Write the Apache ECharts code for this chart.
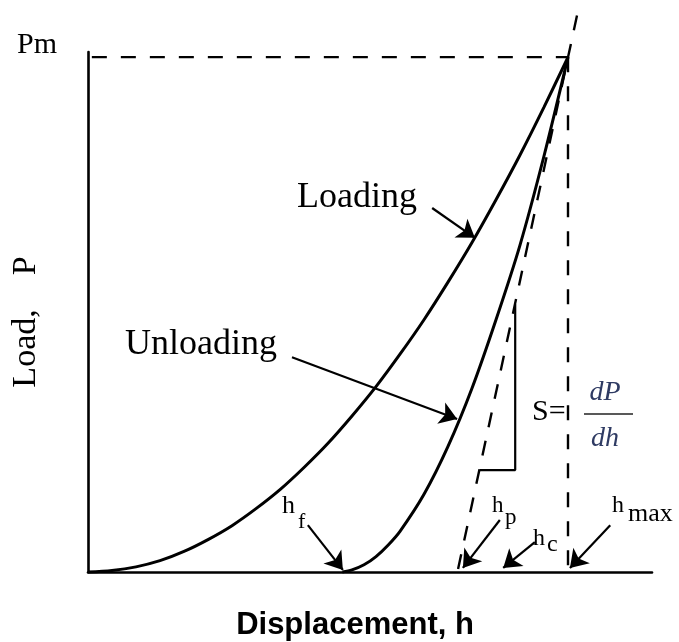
<!DOCTYPE html>
<html>
<head>
<meta charset="utf-8">
<script src="https://cdn.jsdelivr.net/npm/echarts@6/dist/echarts.min.js"></script>
<style>
  html, body { margin: 0; padding: 0; background: #fff; }
  #chart { width: 679px; height: 642px; }
</style>
</head>
<body>
<div id="chart"></div>
<script>
// displacement h (hmax = 100) and load P (Pm = 100)
const loadingH = [0, 5, 10, 15, 20, 25, 30, 35, 40, 45, 50, 55, 60, 65, 70, 75, 80, 85, 90, 95, 100]
const loadingP = [0, 0.3, 1, 2.2, 4, 6.3, 9, 12.3, 16, 20.3, 25, 30.3, 36, 42.3, 49, 56.3, 64, 72.3, 81, 90.3, 100]

const unloadingH = [53, 55, 57.5, 60, 62.5, 65, 70, 75, 80, 85, 90, 95, 100]
const unloadingP = [0, 0.4, 1.4, 3, 5.2, 7.9, 15.1, 24.4, 35.7, 49, 63.5, 80.8, 100]

// contact stiffness tangent, Pm level, hmax level, slope triangle
const tangentLine = [[77.1, 0.6], [102.2, 109.5]]
const pmLine = [[0.8, 100], [100, 100]]
const hmaxLine = [[100, 100], [100, 0.6]]
const slopeTriangle = [[81.6, 19.8], [89, 19.8], [89, 52]]

// annotation arrows: [from, to]
const arrows = [
	[[71.7, 70.7], [80.6, 64.9]], // Loading
	[[42.5, 41.7], [76.9, 29.7]], // Unloading
	[[45.8, 9.1], [53.1, 0.4]], // hf
	[[85.8, 10.1], [78.1, 0.8]], // hp
	[[93.1, 5.8], [86.5, 0.8]], // hc
	[[108.8, 9.1], [100.4, 0.8]], // hmax
]

const xMax = 117.5
const yMax = 101

function pairs(xs, ys) {
	return xs.map((x, i) => [x, ys[i]])
}

const serif = '"Liberation Serif", "Times New Roman", serif'

function txt(text, x, y, size, opts) {
	opts = opts || {}
	return {
		type: 'text',
		x: x,
		y: y,
		rotation: opts.rotation || 0,
		silent: true,
		style: {
			text: text,
			font: (opts.style || '') + ' ' + (opts.weight || 'normal') + ' ' + size + 'px ' + (opts.family || serif),
			fill: opts.color || '#000',
			textAlign: opts.align || 'left',
			textVerticalAlign: 'middle',
		},
	}
}

const dashed = { color: '#000', width: 2.4, type: [15, 14] }

let option = {
	animation: false,
	backgroundColor: '#fff',
	grid: { left: 88, right: 27, top: 52, bottom: 70, containLabel: false, outerBoundsMode: 'none' },
	xAxis: {
		type: 'value',
		min: 0,
		max: xMax,
		axisLine: { show: true, onZero: false, lineStyle: { color: '#000', width: 2.6 } },
		axisTick: { show: false },
		axisLabel: { show: false },
		splitLine: { show: false },
	},
	yAxis: {
		type: 'value',
		min: 0,
		max: yMax,
		axisLine: { show: true, onZero: false, lineStyle: { color: '#000', width: 2.6 } },
		axisTick: { show: false },
		axisLabel: { show: false },
		splitLine: { show: false },
	},
	series: [
		{
			name: 'Loading',
			type: 'line',
			data: pairs(loadingH, loadingP),
			smooth: 0.3,
			showSymbol: false,
			clip: false,
			lineStyle: { color: '#000', width: 3 },
		},
		{
			name: 'Unloading',
			type: 'line',
			data: pairs(unloadingH, unloadingP),
			smooth: 0.3,
			showSymbol: false,
			clip: false,
			lineStyle: { color: '#000', width: 3 },
		},
		{ type: 'line', data: tangentLine, showSymbol: false, clip: false, lineStyle: dashed },
		{ type: 'line', data: pmLine, showSymbol: false, clip: false, lineStyle: dashed },
		{ type: 'line', data: hmaxLine, showSymbol: false, clip: false, lineStyle: dashed },
		{
			type: 'line',
			data: slopeTriangle,
			showSymbol: false,
			clip: false,
			lineStyle: { color: '#000', width: 2.2 },
		},
		{
			type: 'lines',
			coordinateSystem: 'cartesian2d',
			polyline: false,
			symbol: ['none', 'arrow'],
			symbolSize: [9, 17],
			lineStyle: { color: '#000', width: 2.2, opacity: 1, curveness: 0 },
			data: arrows.map((a) => ({ coords: a })),
			silent: true,
		},
	],
	graphic: [
		txt('Pm', 17, 45, 30),
		txt('Loading', 297, 198, 36),
		txt('Unloading', 125, 345, 36),
		txt('Load,    P', 26, 322, 34, { rotation: Math.PI / 2, align: 'center' }),
		txt('Displacement, h', 355, 625, 31, { align: 'center', weight: 'bold', family: '"Liberation Sans", Arial, sans-serif' }),
		txt('h', 282, 506, 26),
		txt('f', 298, 522, 22),
		txt('h', 492, 506, 23),
		txt('p', 505, 518, 23),
		txt('h', 533, 539, 24),
		txt('c', 547, 545, 24),
		txt('h', 612, 506, 24),
		txt('max', 628, 514, 26),
		txt('S=', 532, 412, 30),
		txt('dP', 605, 393, 28, { style: 'italic', align: 'center', color: '#2f3b63' }),
		txt('dh', 605, 439, 28, { style: 'italic', align: 'center', color: '#2f3b63' }),
		{
			type: 'line',
			silent: true,
			shape: { x1: 584, y1: 414, x2: 633, y2: 414 },
			style: { stroke: '#222', lineWidth: 1.6 },
		},
	],
}

const chart = echarts.init(document.getElementById('chart'))
chart.setOption(option)
</script>
</body>
</html>
